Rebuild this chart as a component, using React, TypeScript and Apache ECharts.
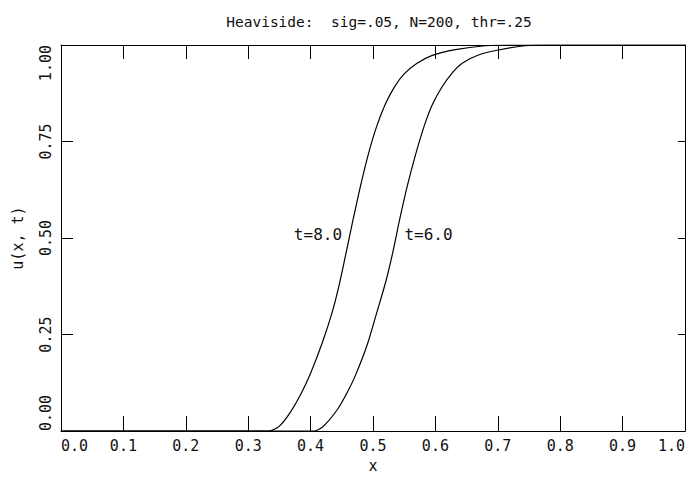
import React, { useEffect, useRef } from "react";
import * as echarts from "echarts";

const TITLE = "Heaviside:  sig=.05, N=200, thr=.25";
const X_NAME = "x";
const Y_NAME = "u(x, t)";

// curve labelled t=8.0 (left curve)
const xT8 = [0, 0.333, 0.35, 0.368, 0.385, 0.4, 0.419, 0.435, 0.446, 0.456, 0.467, 0.48, 0.493, 0.506, 0.52, 0.535, 0.55, 0.57, 0.595, 0.632, 0.68, 0.72, 1.0];
const uT8 = [0, 0, 0.013, 0.05, 0.098, 0.15, 0.23, 0.31, 0.38, 0.455, 0.54, 0.635, 0.72, 0.79, 0.848, 0.893, 0.925, 0.952, 0.973, 0.988, 0.998, 1.0, 1.0];

// curve labelled t=6.0 (right curve)
const xT6 = [0, 0.405, 0.42, 0.443, 0.458, 0.472, 0.491, 0.507, 0.521, 0.532, 0.543, 0.555, 0.568, 0.582, 0.595, 0.61, 0.627, 0.643, 0.669, 0.701, 0.744, 0.78, 1.0];
const uT6 = [0, 0, 0.012, 0.056, 0.098, 0.145, 0.225, 0.312, 0.39, 0.465, 0.55, 0.635, 0.715, 0.79, 0.845, 0.89, 0.928, 0.953, 0.974, 0.987, 0.998, 1.0, 1.0];

const seriesNames = ["t=8.0", "t=6.0"];
const labelAnchorX = [0.46, 0.536];
const labelAnchorU = [0.51, 0.51];

const FONT = "DejaVu Sans Mono";
const INK = "#111";

export default function App() {
  const ref = useRef<HTMLDivElement>(null);
  useEffect(() => {
    document.body.style.margin = "0";
    const chart = echarts.init(ref.current!, null, { renderer: "svg" });
    const zip = (xs: number[], ys: number[]) => xs.map((x, i) => [x, ys[i]]);
    const lineSeries = (name: string, data: number[][], idx: number, pos: "left" | "right", dist: number) => ({
      name,
      type: "line",
      data,
      showSymbol: false,
      smooth: 0.25,
      lineStyle: { color: "#000", width: 1.2 },
      markPoint: {
        symbol: "circle",
        symbolSize: 0,
        itemStyle: { color: "transparent" },
        label: {
          show: true,
          position: pos,
          distance: dist,
          formatter: name,
          color: INK,
          fontFamily: FONT,
          fontSize: 16,
        },
        data: [{ coord: [labelAnchorX[idx], labelAnchorU[idx]] }],
      },
    });
    const axisText = { color: INK, fontFamily: FONT, fontSize: 15 };
    const line = { show: true, onZero: false, lineStyle: { color: "#000", width: 1 } };
    chart.setOption({
      animation: false,
      backgroundColor: "#fff",
      title: {
        text: TITLE,
        left: 374,
        textAlign: "center",
        top: 9,
        textStyle: { color: INK, fontFamily: FONT, fontSize: 14.5, fontWeight: "normal" },
      },
      grid: { left: 61, right: 2, top: 45, bottom: 42 },
      xAxis: [
        {
          type: "value",
          position: "bottom",
          min: 0,
          max: 1,
          interval: 0.1,
          name: X_NAME,
          nameLocation: "middle",
          nameGap: 22,
          nameTextStyle: { ...axisText, verticalAlign: "top" },
          axisLine: line,
          axisTick: { show: true, inside: true, length: 15, lineStyle: { color: "#000" } },
          axisLabel: {
            ...axisText,
            margin: 7,
            formatter: (v: number) => v.toFixed(1),
            alignMinLabel: "left",
            alignMaxLabel: "right",
          },
          splitLine: { show: false },
        },
        {
          type: "value",
          position: "top",
          min: 0,
          max: 1,
          interval: 0.1,
          axisLine: line,
          axisTick: { show: true, inside: true, length: 14, lineStyle: { color: "#000" } },
          axisLabel: { show: false },
          splitLine: { show: false },
        },
      ],
      yAxis: [
        {
          type: "value",
          position: "left",
          min: 0,
          max: 1,
          interval: 0.25,
          name: Y_NAME,
          nameLocation: "middle",
          nameGap: 36,
          nameRotate: 90,
          nameTextStyle: axisText,
          axisLine: line,
          axisTick: { show: true, inside: true, length: 12, lineStyle: { color: "#000" } },
          axisLabel: {
            ...axisText,
            rotate: 90,
            margin: 8,
            formatter: (v: number) => v.toFixed(2),
            alignMinLabel: "left",
            alignMaxLabel: "right",
          },
          splitLine: { show: false },
        },
        {
          type: "value",
          position: "right",
          min: 0,
          max: 1,
          interval: 0.25,
          axisLine: line,
          axisTick: { show: true, inside: true, length: 7, lineStyle: { color: "#000" } },
          axisLabel: { show: false },
          splitLine: { show: false },
        },
      ],
      series: [
        lineSeries(seriesNames[0], zip(xT8, uT8), 0, "left", 6),
        lineSeries(seriesNames[1], zip(xT6, uT6), 1, "right", 9),
      ],
    });
    return () => chart.dispose();
  }, []);
  return <div ref={ref} style={{ width: 688, height: 478 }} />;
}
